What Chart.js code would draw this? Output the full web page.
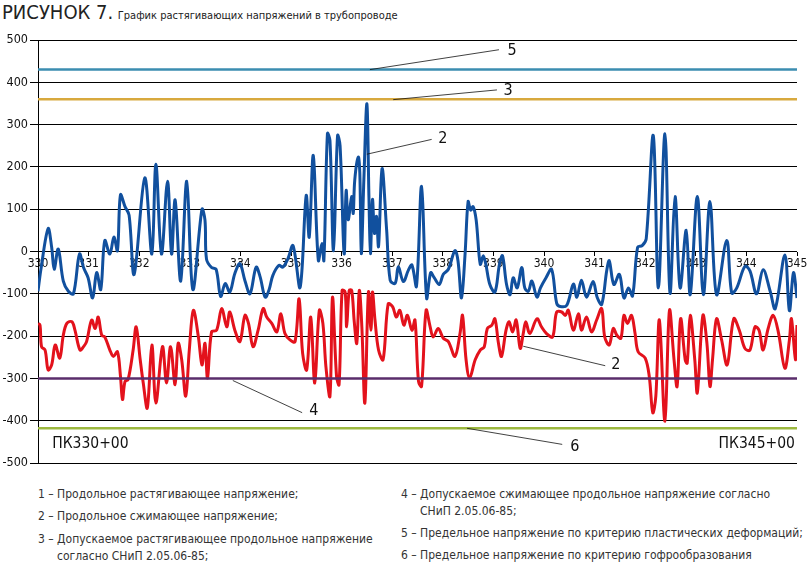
<!DOCTYPE html>
<html lang="ru">
<head>
<meta charset="UTF-8">
<title>График растягивающих напряжений в трубопроводе</title>
<script src="https://cdn.jsdelivr.net/npm/chart.js"></script>
<style>
    body { margin: 0; background: #fff; }
    .page { position: relative; width: 810px; height: 571px; overflow: hidden;
            font-family: "Liberation Sans Narrow", "DejaVu Sans Condensed", "Roboto Condensed", "Arial Narrow", sans-serif; color: #333; }
    #chartBox { position: absolute; left: 0; top: 0; width: 810px; height: 480px; }
    .title { position: absolute; left: 2px; top: 0px; white-space: nowrap; color: #222; }
    .title .big { font-size: 20px; }
    .title .small { font-size: 11px; }
    .leg { position: absolute; font-size: 12px; line-height: 14px; white-space: nowrap; }
</style>
</head>
<body>
<div class="page">
    <div class="title"><span class="big">РИСУНОК 7.</span> <span class="small">График растягивающих напряжений в трубопроводе</span></div>
    <div id="chartBox"><canvas id="stressChart" width="810" height="480"></canvas></div>
    <div class="leg" style="left:38px; top:487px">1 – Продольное растягивающее напряжение;</div>
    <div class="leg" style="left:38px; top:509px">2 – Продольное сжимающее напряжение;</div>
    <div class="leg" style="left:38px; top:532px">3 – Допускаемое растягивающее продольное напряжение</div>
    <div class="leg" style="left:57px; top:549px">согласно СНиП 2.05.06-85;</div>
    <div class="leg" style="left:401px; top:487px">4 – Допускаемое сжимающее продольное напряжение согласно</div>
    <div class="leg" style="left:420px; top:504px">СНиП 2.05.06-85;</div>
    <div class="leg" style="left:401px; top:526px">5 – Предельное напряжение по критерию пластических деформаций;</div>
    <div class="leg" style="left:401px; top:548px">6 – Предельное напряжение по критерию гофрообразования</div>
</div>
<script>
// пикеты (км) и напряжения (МПа)
const tensKm = [330.00,330.06,330.20,330.27,330.32,330.40,330.50,330.60,330.70,330.82,
    330.90,330.99,331.08,331.16,331.24,331.32,331.42,331.50,331.57,331.63,
    331.72,331.80,331.90,332.11,332.25,332.33,332.44,332.56,332.64,332.71,
    332.82,332.94,333.06,333.24,333.30,333.33,333.43,333.52,333.61,333.70,
    333.79,333.89,333.99,334.09,334.19,334.31,334.39,334.49,334.57,334.64,
    334.76,334.84,334.94,335.04,335.18,335.30,335.36,335.44,335.54,335.61,
    335.65,335.72,335.77,335.84,335.92,335.97,336.05,336.09,336.13,336.20,
    336.23,336.26,336.33,336.36,336.39,336.44,336.50,336.54,336.57,336.61,
    336.65,336.69,336.73,336.80,336.89,336.96,337.06,337.12,337.22,337.32,
    337.39,337.48,337.58,337.68,337.76,337.83,337.93,338.01,338.11,338.24,
    338.30,338.37,338.44,338.50,338.55,338.60,338.66,338.74,338.80,338.85,
    338.93,339.03,339.12,339.18,339.26,339.33,339.39,339.47,339.56,339.62,
    339.69,339.76,339.86,339.93,340.04,340.15,340.25,340.32,340.45,340.58,
    340.65,340.74,340.84,340.97,341.05,341.14,341.24,341.29,341.38,341.49,
    341.58,341.67,341.75,341.85,341.94,342.02,342.16,342.26,342.39,342.49,
    342.59,342.69,342.81,342.89,343.03,343.15,343.28,343.41,343.61,343.71,
    343.81,343.97,344.07,344.20,344.33,344.47,344.57,344.76,344.85,344.93,
    345.00];
const tensVal = [-94,-40,54,10,-42,6,-70,-94,-100,-6,
    -38,-62,-110,-50,-90,26,-6,34,2,134,
    106,86,-54,174,-6,206,-6,166,-6,122,
    -70,166,-90,100,74,-18,-38,-42,-106,-76,
    -96,-52,-29,-69,-100,-37,-60,-108,-89,-57,
    -33,-37,-17,14,-85,132,34,227,-21,19,
    -21,279,262,2,274,250,-5,144,75,130,
    90,169,223,186,-5,170,349,130,-5,123,
    43,83,12,196,51,-68,-75,-36,-71,-44,
    -32,-82,154,-110,-50,-62,-78,-54,-42,2,
    -22,-110,-6,118,98,106,74,-30,-10,-30,
    -78,-96,-30,-10,-78,-102,-62,-86,-38,-86,
    -94,-70,-108,-86,-62,-42,-122,-130,-127,-77,
    -108,-68,-108,-71,-108,-125,-45,-22,-78,-54,
    -110,-86,-105,10,14,30,274,-86,278,-98,
    130,-86,50,-102,130,-102,118,-102,26,-98,
    -86,-35,-46,-100,-43,-94,-135,-8,-140,-50,
    -110];

const compKm = [330.00,330.04,330.07,330.14,330.20,330.27,330.34,330.43,330.50,330.57,
    330.67,330.73,330.83,330.90,330.96,331.06,331.13,331.19,331.26,331.32,
    331.42,331.49,331.57,331.63,331.67,331.72,331.78,331.88,331.94,332.02,
    332.08,332.16,332.25,332.33,332.46,332.54,332.62,332.71,332.77,332.84,
    332.92,332.99,333.07,333.17,333.24,333.30,333.35,333.43,333.53,333.63,
    333.73,333.79,333.89,333.99,334.09,334.16,334.25,334.35,334.45,334.52,
    334.62,334.72,334.80,334.88,334.98,335.08,335.16,335.23,335.31,335.39,
    335.47,335.56,335.63,335.69,335.77,335.82,335.90,335.95,336.01,336.07,
    336.10,336.15,336.20,336.25,336.30,336.35,336.40,336.46,336.53,336.58,
    336.61,336.66,336.73,336.82,336.92,337.01,337.08,337.15,337.23,337.30,
    337.39,337.45,337.52,337.58,337.67,337.75,337.81,337.91,338.01,338.11,
    338.24,338.34,338.39,338.46,338.53,338.64,338.74,338.82,338.88,338.97,
    339.03,339.10,339.16,339.25,339.31,339.38,339.45,339.53,339.59,339.64,
    339.72,339.86,339.95,340.05,340.17,340.25,340.35,340.42,340.48,340.58,
    340.68,340.74,340.84,340.94,341.04,341.14,341.20,341.29,341.37,341.44,
    341.52,341.58,341.65,341.73,341.80,341.86,342.00,342.08,342.15,342.21,
    342.28,342.39,342.48,342.57,342.63,342.70,342.79,342.83,342.89,342.98,
    343.03,343.14,343.22,343.28,343.33,343.41,343.51,343.62,343.75,343.86,
    343.97,344.07,344.17,344.25,344.33,344.43,344.53,344.63,344.76,344.85,
    344.89,344.97,345.00];
const compVal = [-170,-174,-225,-233,-280,-268,-221,-252,-198,-170,
    -166,-186,-233,-225,-213,-162,-182,-155,-198,-202,
    -233,-248,-237,-295,-350,-307,-303,-233,-178,-256,
    -311,-370,-221,-358,-225,-311,-225,-315,-217,-256,
    -342,-233,-139,-202,-268,-217,-299,-190,-186,-135,
    -178,-143,-186,-213,-151,-170,-225,-186,-135,-155,
    -170,-190,-147,-194,-209,-213,-112,-241,-280,-155,
    -311,-139,-170,-272,-342,-108,-295,-315,-92,-96,
    -178,-92,-92,-166,-217,-92,-178,-358,-96,-186,
    -96,-162,-233,-256,-124,-131,-155,-139,-174,-151,
    -186,-162,-307,-319,-139,-178,-202,-182,-205,-213,
    -248,-194,-151,-256,-299,-256,-233,-225,-182,-174,
    -159,-217,-248,-186,-166,-190,-162,-229,-194,-166,
    -194,-159,-178,-194,-202,-143,-143,-151,-139,-186,
    -147,-186,-155,-190,-162,-135,-202,-221,-182,-198,
    -205,-151,-170,-151,-194,-237,-252,-295,-381,-342,
    -162,-401,-139,-256,-319,-159,-256,-264,-151,-256,
    -334,-151,-217,-319,-256,-159,-209,-268,-159,-186,
    -229,-233,-178,-186,-233,-182,-151,-190,-276,-209,
    -159,-256,-174];

// предельные уровни: 5, 3, 4, 6
const limitNames = ['5', '3', '4', '6'];
const limitVals = [430, 360, -300, -418];
const limitColors = ['#3b8db0', '#d8a93e', '#5a2d6b', '#9cb83f'];

const xTicks = [330, 345];
const yTicks = [-500, 500];

const FONT = '"Liberation Sans Narrow", "DejaVu Sans Condensed", "Roboto Condensed", "Arial Narrow", sans-serif';

function toPoints(xs, ys) {
    return xs.map((x, i) => ({ x: x, y: ys[i] }));
}

const datasets = [];
limitVals.forEach((v, i) => {
    datasets.push({
        label: limitNames[i],
        data: [{ x: xTicks[0], y: v }, { x: xTicks[1], y: v }],
        borderColor: limitColors[i],
        borderWidth: 2.5,
        pointRadius: 0,
        tension: 0
    });
});
datasets.push({
    label: '1',
    data: toPoints(tensKm, tensVal),
    borderColor: '#11509e',
    borderWidth: 3,
    pointRadius: 0,
    tension: 0.35
});
datasets.push({
    label: '2',
    data: toPoints(compKm, compVal),
    borderColor: '#e3121c',
    borderWidth: 3,
    pointRadius: 0,
    tension: 0.35
});

// выноски с номерами кривых (в координатах графика)
const callouts = [
    { text: '5', from: [336.56, 430], to: [339.11, 477], at: [339.37, 474] },
    { text: '3', from: [337.02, 359], to: [339.07, 382], at: [339.29, 379] },
    { text: '2', from: [336.50, 230], to: [337.78, 265], at: [338.00, 266] },
    { text: '2', from: [339.59, -224], to: [341.21, -270], at: [341.42, -267] },
    { text: '4', from: [333.85, -305], to: [335.22, -381], at: [335.45, -376] },
    { text: '6', from: [338.48, -418], to: [340.36, -456], at: [340.61, -461] }
];

const calloutPlugin = {
    id: 'callouts',
    afterDatasetsDraw(chart) {
        const { ctx, scales: { x, y } } = chart;
        ctx.save();
        ctx.strokeStyle = '#111';
        ctx.lineWidth = 0.8;
        ctx.fillStyle = '#111';
        ctx.font = '16px ' + FONT;
        ctx.textAlign = 'center';
        ctx.textBaseline = 'middle';
        callouts.forEach(c => {
            ctx.beginPath();
            ctx.moveTo(x.getPixelForValue(c.from[0]), y.getPixelForValue(c.from[1]));
            ctx.lineTo(x.getPixelForValue(c.to[0]), y.getPixelForValue(c.to[1]));
            ctx.stroke();
            ctx.fillText(c.text, x.getPixelForValue(c.at[0]), y.getPixelForValue(c.at[1]));
        });
        // пикеты начала и конца участка
        const py = y.getPixelForValue(-456);
        ctx.font = '15.5px ' + FONT;
        ctx.textAlign = 'left';
        ctx.fillText('ПК330+00', x.getPixelForValue(330.28), py);
        ctx.textAlign = 'right';
        ctx.fillText('ПК345+00', x.getPixelForValue(344.96), py);
        ctx.restore();
    }
};

new Chart(document.getElementById('stressChart'), {
    type: 'line',
    data: { datasets: datasets },
    options: {
        responsive: false,
        animation: false,
        layout: { padding: { top: 40, right: 13, bottom: 17, left: 0 } },
        plugins: { legend: { display: false }, tooltip: { enabled: false } },
        scales: {
            x: {
                type: 'linear',
                position: { y: 0 },
                min: xTicks[0],
                max: xTicks[1],
                grid: { display: true, drawOnChartArea: false, color: '#000', tickLength: 4 },
                border: { display: false },
                ticks: { stepSize: 1, autoSkip: false, maxRotation: 0, padding: 1,
                         color: '#111', font: { family: FONT, size: 12 } }
            },
            y: {
                min: yTicks[0],
                max: yTicks[1],
                grid: { color: '#000', lineWidth: 1, tickLength: 8 },
                border: { display: true, color: '#000', width: 1 },
                ticks: { stepSize: 100, padding: 2, color: '#111', font: { family: FONT, size: 12.5 } },
                afterFit(scale) { scale.width = 38; }
            }
        }
    },
    plugins: [calloutPlugin]
});
</script>
</body>
</html>
